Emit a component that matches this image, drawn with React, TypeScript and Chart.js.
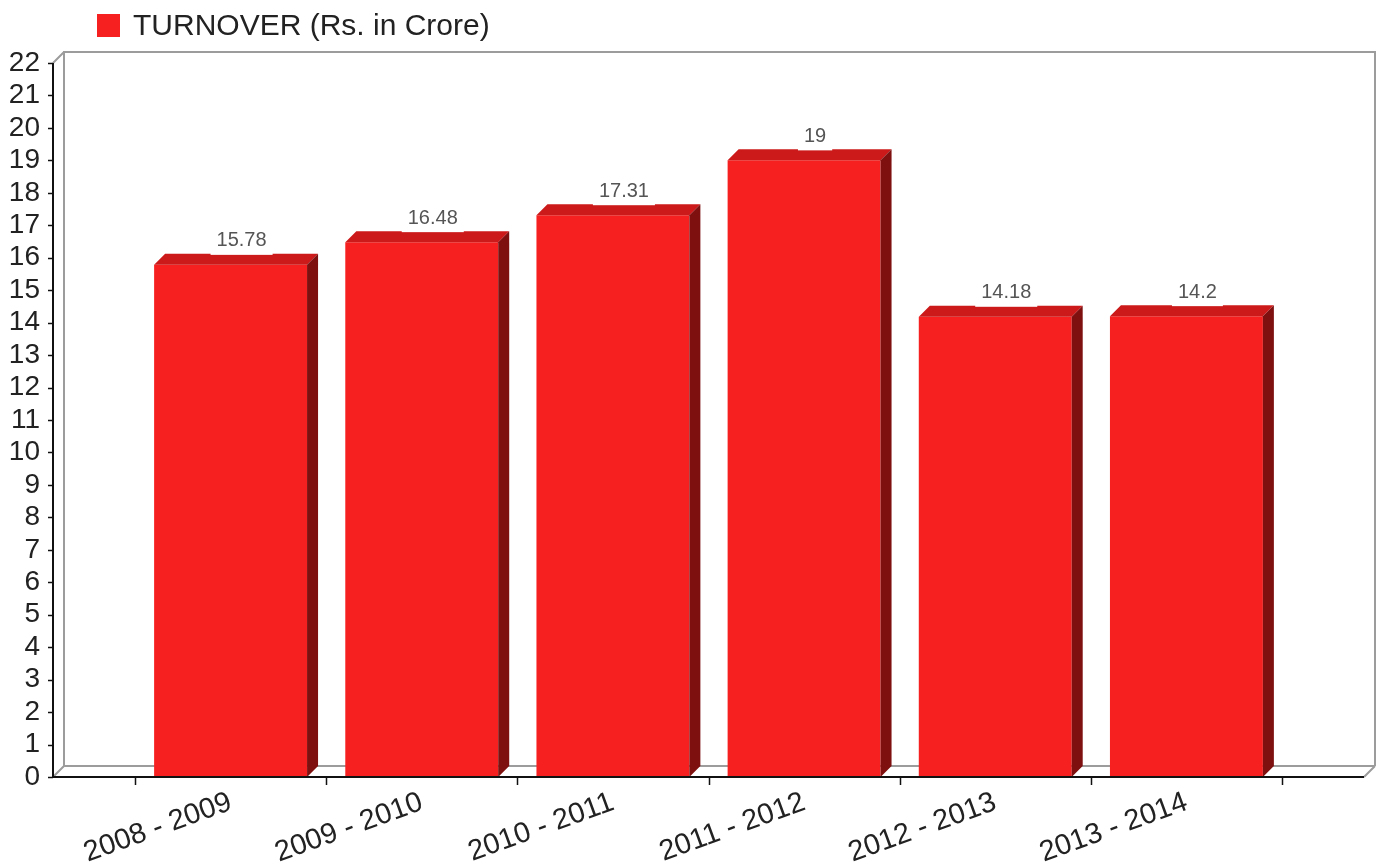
import React, { useEffect, useRef } from "react";
import { Chart, registerables } from "chart.js";

Chart.register(...registerables);

const categories = ["2008 - 2009", "2009 - 2010", "2010 - 2011", "2011 - 2012", "2012 - 2013", "2013 - 2014"];
const turnover = [15.78, 16.48, 17.31, 19, 14.18, 14.2];
const valueLabels = ["15.78", "16.48", "17.31", "19", "14.18", "14.2"];
const seriesName = "TURNOVER (Rs. in Crore)";
const yMin = 0;
const yMax = 22;
const yStep = 1;

const FONT = "'Liberation Sans', Arial, sans-serif";
const DEPTH = 11;
const EXT = 82;
const FRONT = "#F72020";
const TOPC = "#CC1A1A";
const SIDE = "#7E1010";
const WALL = "#9c9c9c";

const threeD = {
  id: "threeD",
  beforeDatasetsDraw(chart: any) {
    const { ctx, chartArea: ca } = chart;
    const d = DEPTH;
    const L = ca.left - EXT;
    const R = ca.right + EXT;
    const T = ca.top;
    const B = ca.bottom;
    ctx.save();
    ctx.strokeStyle = WALL;
    ctx.lineWidth = 2;
    ctx.beginPath();
    ctx.moveTo(L + d, B - d);
    ctx.lineTo(L + d, T - d);
    ctx.lineTo(chart.width, T - d);
    ctx.moveTo(L + d, B - d);
    ctx.lineTo(R + d, B - d);
    ctx.moveTo(R + d, B - d);
    ctx.lineTo(R + d, T - d);
    ctx.moveTo(L, T);
    ctx.lineTo(L + d, T - d);
    ctx.moveTo(L, B);
    ctx.lineTo(L + d, B - d);
    ctx.moveTo(R, B);
    ctx.lineTo(R + d, B - d);
    ctx.stroke();
    ctx.restore();
  },
  afterDatasetsDraw(chart: any) {
    const { ctx, chartArea: ca } = chart;
    const d = DEPTH;
    const L = ca.left - EXT;
    const R = ca.right + EXT;
    const meta = chart.getDatasetMeta(0);
    const xs = chart.scales.x;
    const ys = chart.scales.y;
    ctx.save();
    meta.data.forEach((bar: any) => {
      const p = bar.getProps(["x", "y", "base", "width"], true);
      const left = p.x - p.width / 2;
      const right = p.x + p.width / 2;
      ctx.fillStyle = TOPC;
      ctx.beginPath();
      ctx.moveTo(left, p.y);
      ctx.lineTo(left + d, p.y - d);
      ctx.lineTo(right + d, p.y - d);
      ctx.lineTo(right, p.y);
      ctx.closePath();
      ctx.fill();
      ctx.fillStyle = SIDE;
      ctx.beginPath();
      ctx.moveTo(right, p.y);
      ctx.lineTo(right + d, p.y - d);
      ctx.lineTo(right + d, p.base - d);
      ctx.lineTo(right, p.base);
      ctx.closePath();
      ctx.fill();
    });
    ctx.strokeStyle = "#111";
    ctx.lineWidth = 2;
    ctx.beginPath();
    ctx.moveTo(L, ca.top);
    ctx.lineTo(L, ca.bottom);
    ctx.lineTo(R, ca.bottom);
    ctx.stroke();
    ctx.lineWidth = 1.5;
    ctx.beginPath();
    for (let v = yMin; v <= yMax; v += yStep) {
      const y = Math.round(ys.getPixelForValue(v)) + 0.5;
      ctx.moveTo(L - 5, y);
      ctx.lineTo(L, y);
    }
    ctx.stroke();
    const half = (xs.getPixelForValue(1) - xs.getPixelForValue(0)) / 2;
    ctx.beginPath();
    for (let i = 0; i <= categories.length; i++) {
      const x = Math.round(xs.getPixelForValue(i) - half) + 0.5;
      ctx.moveTo(x, ca.bottom);
      ctx.lineTo(x, ca.bottom + 8);
    }
    ctx.stroke();
    ctx.font = `20px ${FONT}`;
    ctx.textAlign = "center";
    ctx.textBaseline = "middle";
    meta.data.forEach((bar: any, i: number) => {
      const p = bar.getProps(["x", "y"], true);
      const txt = valueLabels[i];
      const w = ctx.measureText(txt).width + 12;
      const cx = p.x + d;
      const topBack = p.y - d;
      ctx.fillStyle = "#ffffff";
      ctx.fillRect(cx - w / 2, topBack - 26, w, 27);
      ctx.fillStyle = "#555555";
      ctx.fillText(txt, cx, topBack - 13);
    });
    ctx.restore();
  },
  afterDraw(chart: any) {
    const { ctx } = chart;
    ctx.save();
    ctx.fillStyle = FRONT;
    ctx.fillRect(97, 14, 23, 23);
    ctx.fillStyle = "#222";
    ctx.font = `30px ${FONT}`;
    ctx.textAlign = "left";
    ctx.textBaseline = "alphabetic";
    ctx.fillText(seriesName, 133, 35);
    ctx.restore();
  },
};

export default function App() {
  const ref = useRef<HTMLCanvasElement | null>(null);
  useEffect(() => {
    if (!ref.current) return;
    const chart = new Chart(ref.current, {
      type: "bar",
      data: {
        labels: categories,
        datasets: [
          {
            label: seriesName,
            data: turnover,
            backgroundColor: FRONT,
            borderWidth: 0,
            barPercentage: 0.8,
            categoryPercentage: 1.0,
          },
        ],
      },
      options: {
        animation: false,
        responsive: false,
        layout: { padding: { left: 0, right: 94, top: 63, bottom: 0 } },
        plugins: { legend: { display: false }, tooltip: { enabled: false }, title: { display: false } },
        scales: {
          x: {
            type: "category",
            offset: true,
            grid: { display: false, drawTicks: false },
            border: { display: false },
            ticks: {
              autoSkip: false,
              minRotation: 20,
              maxRotation: 20,
              padding: 8,
              color: "#222",
              font: { family: FONT, size: 29 },
            },
            afterFit: (s: any) => {
              s.height = 90;
              s.paddingLeft = 0;
              s.paddingRight = 0;
            },
          },
          y: {
            min: yMin,
            max: yMax,
            grid: { display: false, drawTicks: false },
            border: { display: false },
            ticks: {
              stepSize: yStep,
              autoSkip: false,
              padding: 95,
              color: "#222",
              font: { family: FONT, size: 28 },
            },
            afterFit: (s: any) => {
              s.width = 135;
              s.paddingTop = 0;
              s.paddingBottom = 0;
            },
          },
        },
      },
      plugins: [threeD],
    });
    return () => chart.destroy();
  }, []);
  return (
    <div style={{ position: "fixed", left: 0, top: 0, width: 1376, height: 867, background: "#fff" }}>
      <canvas ref={ref} width={1376} height={867} style={{ display: "block" }} />
    </div>
  );
}
